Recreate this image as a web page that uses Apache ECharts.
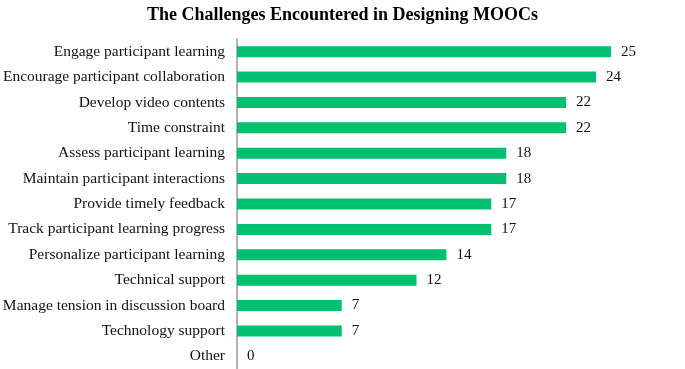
<!DOCTYPE html>
<html>
<head>
<meta charset="utf-8">
<script src="https://cdn.jsdelivr.net/npm/echarts@6/dist/echarts.min.js"></script>
<style>
  html, body { margin: 0; padding: 0; background: #fff; }
  #chart { width: 685px; height: 369px; }
</style>
</head>
<body>
<div id="chart"></div>
<script>
// categories top to bottom
var categories = [
    'Engage participant learning',
    'Encourage participant collaboration',
    'Develop video contents',
    'Time constraint',
    'Assess participant learning',
    'Maintain participant interactions',
    'Provide timely feedback',
    'Track participant learning progress',
    'Personalize participant learning',
    'Technical support',
    'Manage tension in discussion board',
    'Technology support',
    'Other'
];
var counts = [25, 24, 22, 22, 18, 18, 17, 17, 14, 12, 7, 7, 0];

var myChart = echarts.init(document.getElementById('chart'));
var option = {
    animation: false,
    title: {
        text: 'The Challenges Encountered in Designing MOOCs',
        left: 'center',
        top: 1,
        textStyle: {
            fontFamily: 'Liberation Serif',
            fontWeight: 'bold',
            fontSize: 18,
            color: '#000'
        }
    },
    grid: {
        left: 237,
        right: 74,
        top: 39,
        bottom: 0,
        containLabel: false,
        outerBoundsMode: 'none'
    },
    xAxis: {
        type: 'value',
        min: 0,
        max: 25,
        show: false
    },
    yAxis: {
        type: 'category',
        inverse: true,
        data: categories,
        axisLine: { lineStyle: { color: '#999', width: 1.5 } },
        axisTick: { show: false },
        axisLabel: {
            margin: 12,
            fontFamily: 'Liberation Serif',
            fontSize: 15.5,
            color: '#111'
        }
    },
    series: [{
        type: 'bar',
        data: counts,
        barWidth: 11,
        itemStyle: { color: '#00BF6F' },
        label: {
            show: true,
            position: 'right',
            distance: 10,
            fontFamily: 'Liberation Serif',
            fontSize: 15,
            color: '#111'
        }
    }]
};
myChart.setOption(option);
</script>
</body>
</html>
